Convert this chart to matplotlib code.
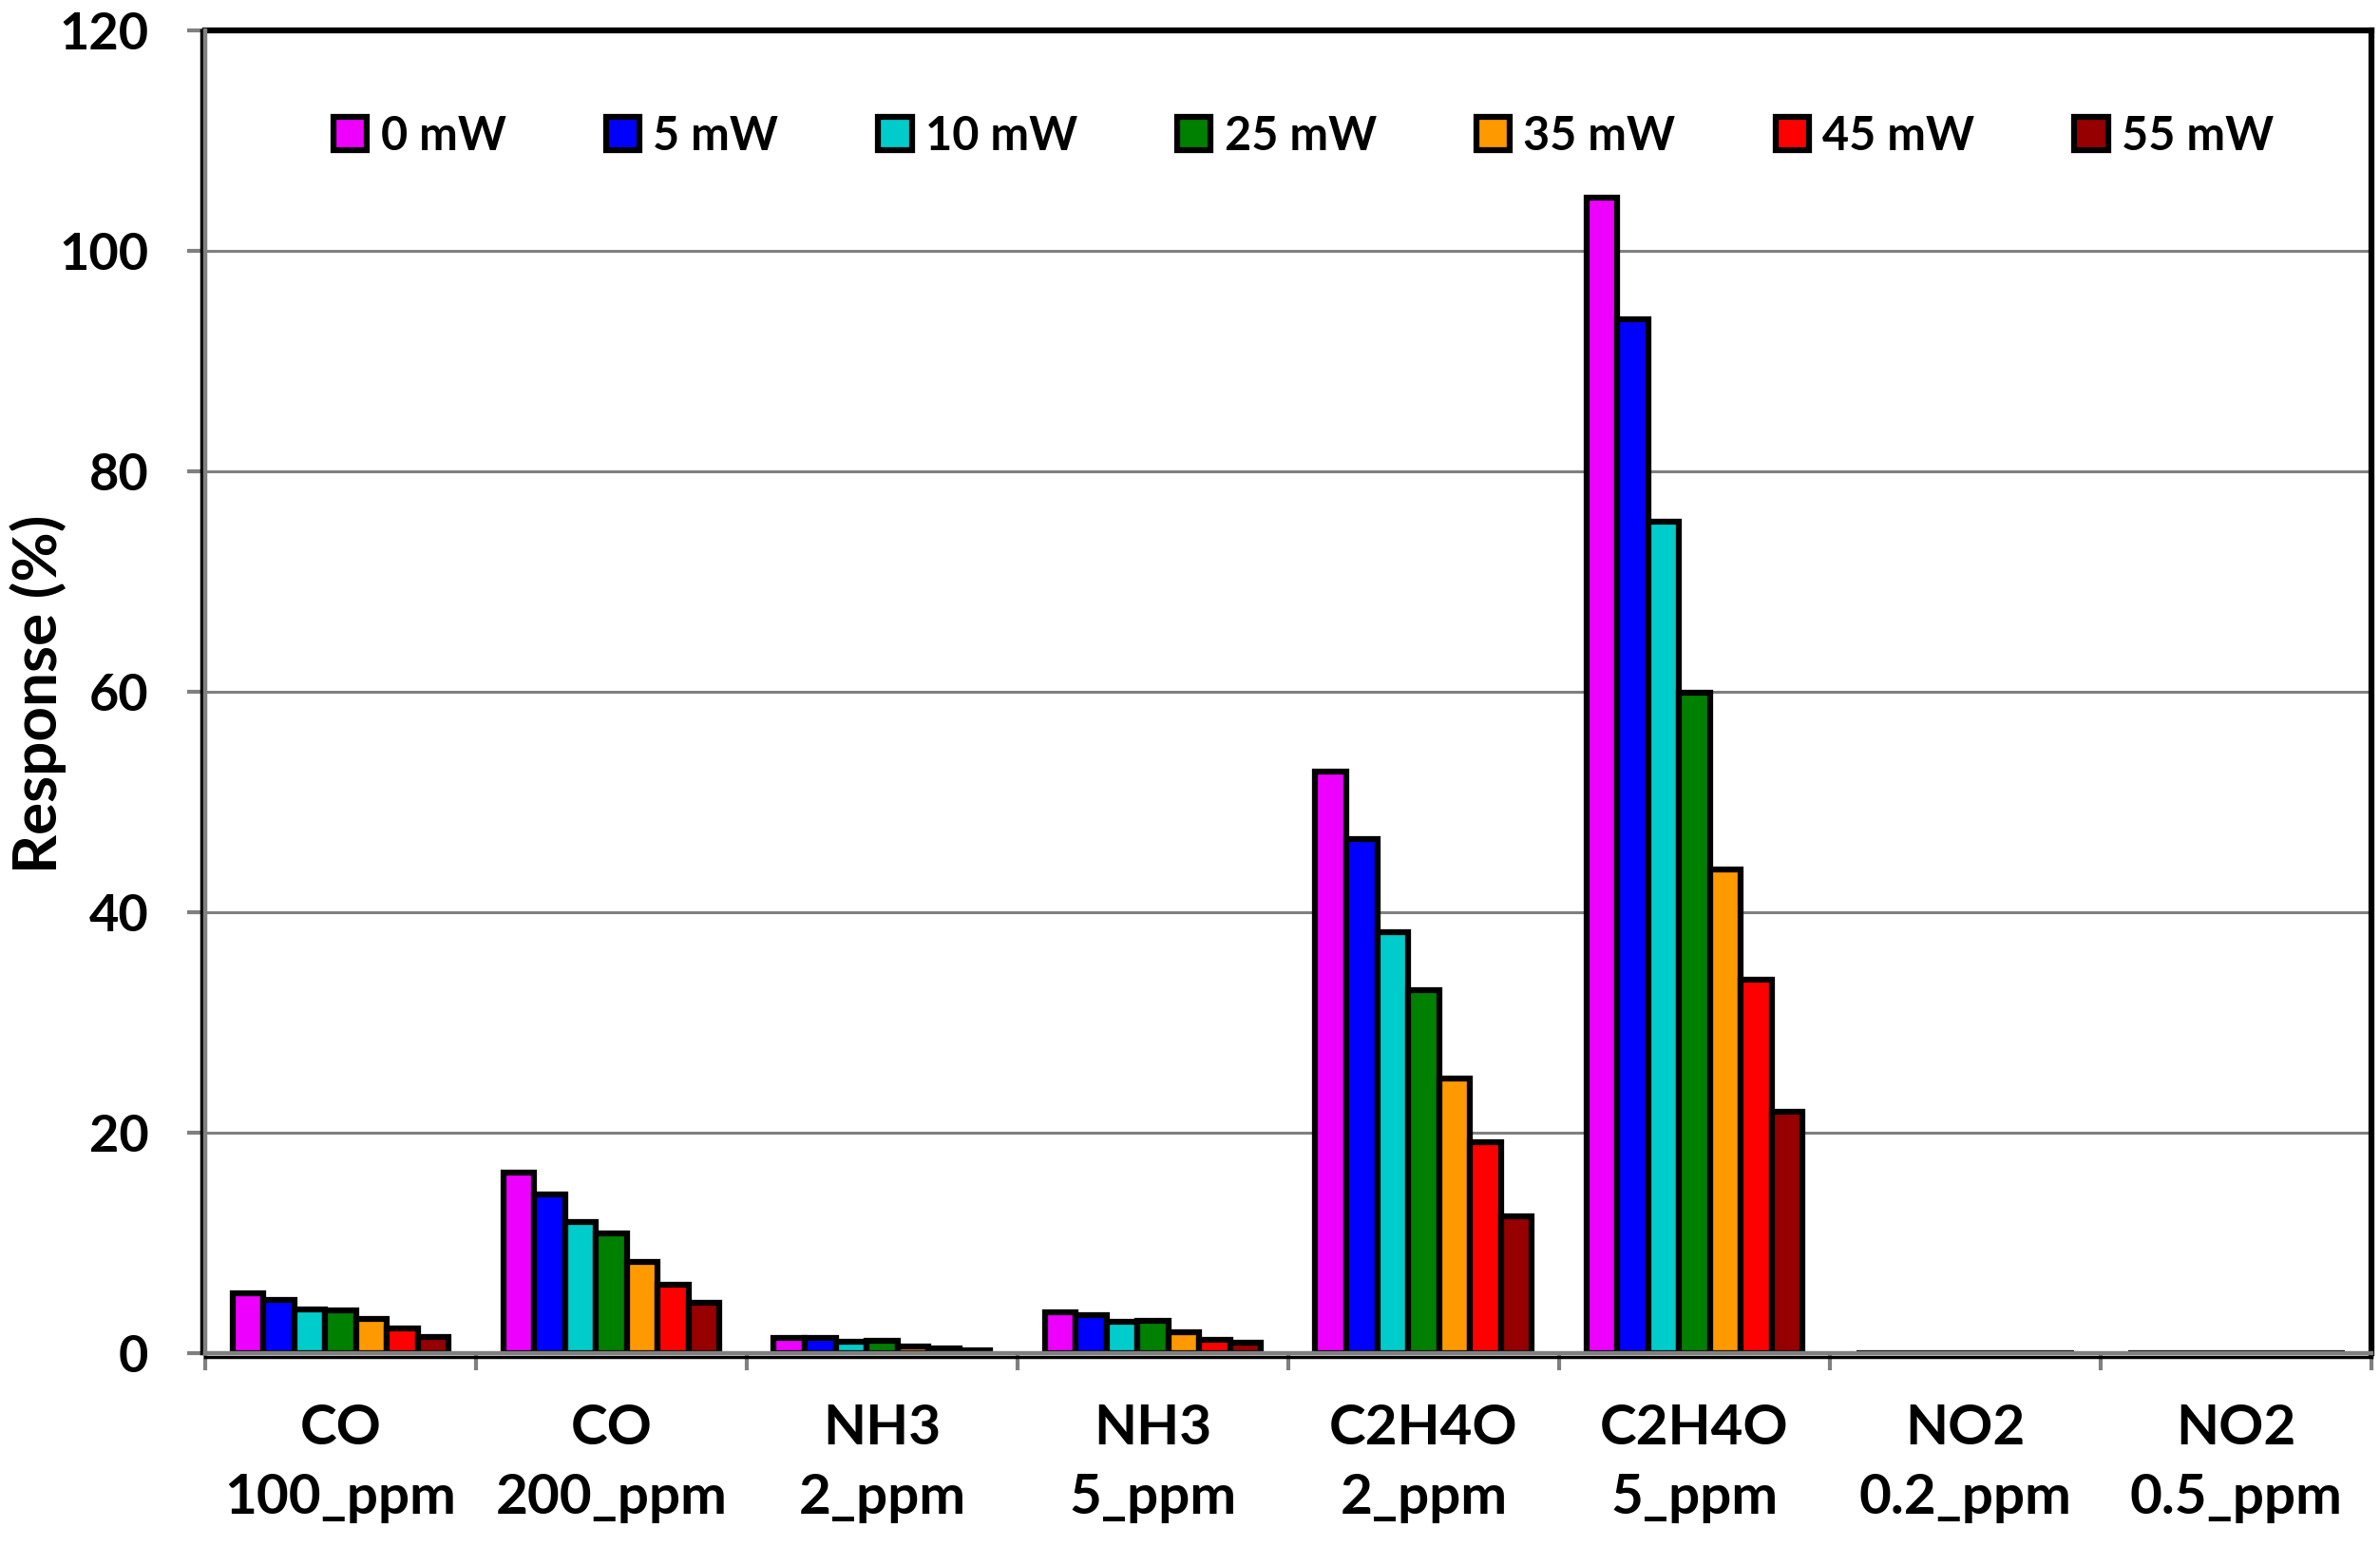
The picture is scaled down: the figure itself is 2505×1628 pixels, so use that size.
import matplotlib
matplotlib.use("Agg")
import matplotlib.pyplot as plt
import numpy as np
from matplotlib.transforms import ScaledTranslation
from matplotlib.lines import Line2D

categories = ["CO\n100_ppm", "CO\n200_ppm", "NH3\n2_ppm", "NH3\n5_ppm",
              "C2H4O\n2_ppm", "C2H4O\n5_ppm", "NO2\n0.2_ppm", "NO2\n0.5_ppm"]
series_names = ["0 mW", "5 mW", "10 mW", "25 mW", "35 mW", "45 mW", "55 mW"]
s_0mW  = [5.4, 16.4, 1.4, 3.7, 52.8, 104.8, 0, 0]
s_5mW  = [4.8, 14.4, 1.4, 3.45, 46.6, 93.8, 0, 0]
s_10mW = [4.0, 11.9, 1.0, 2.85, 38.2, 75.4, 0, 0]
s_25mW = [3.85, 10.9, 1.1, 2.9, 32.9, 59.9, 0, 0]
s_35mW = [3.1, 8.3, 0.6, 1.9, 24.9, 43.9, 0, 0]
s_45mW = [2.2, 6.2, 0.4, 1.2, 19.1, 33.9, 0, 0]
s_55mW = [1.44, 4.6, 0.3, 0.95, 12.4, 21.9, 0, 0]
series = [s_0mW, s_5mW, s_10mW, s_25mW, s_35mW, s_45mW, s_55mW]
colors = ["#EE00FF", "#0000FF", "#00CCCC", "#008000", "#FF9900", "#FF0000", "#960000"]
yticks = [0, 20, 40, 60, 80, 100, 120]

plt.rcParams['font.family'] = ['Lato', 'DejaVu Sans']
plt.rcParams['font.weight'] = 'bold'

fig = plt.figure(figsize=(25.05, 16.28), dpi=100)
ax = fig.add_axes([216/2505, 1-1424/1628, (2496-216)/2505, (1424-32)/1628])

n = len(series)
group_w = 0.8
bw = group_w / n
x = np.arange(len(categories))
for i, (vals, c, name) in enumerate(zip(series, colors, series_names)):
    offs = -group_w/2 + bw*(i+0.5)
    ax.bar(x + offs, vals, width=bw, color=c, edgecolor='black', linewidth=4.5,
           label=name, zorder=3)

ax.set_xlim(-0.5, len(categories)-0.5)
ax.set_ylim(0, 120)
ax.set_yticks(yticks)
ax.set_yticklabels([str(v) for v in yticks])
ax.yaxis.grid(True, color='#808080', linewidth=2.2, zorder=0)
ax.set_axisbelow(True)

ax.set_xticks(np.arange(len(categories)+1) - 0.5)
ax.set_xticklabels([])
ax.set_xticks(x, minor=True)
ax.set_xticklabels(categories, minor=True, fontsize=42, fontweight='bold', linespacing=1.47)
ax.tick_params(axis='x', which='major', length=13, width=3, color='#808080', direction='out')
ax.tick_params(axis='x', which='minor', length=0, pad=38)
ax.tick_params(axis='y', which='major', length=14, width=3, color='#808080',
               direction='out', labelsize=39, pad=29)
for lbl in ax.get_yticklabels():
    lbl.set_fontweight('bold')

for s in ['top', 'right']:
    ax.spines[s].set_color('black')
    ax.spines[s].set_linewidth(4.5)
for s in ['left', 'bottom']:
    ax.spines[s].set_color('#808080')
    ax.spines[s].set_linewidth(3.2)
    ax.spines[s].set_zorder(5)

# black outer border just outside the gray axis lines
off_l = ax.transAxes + ScaledTranslation(-4/100, 0, fig.dpi_scale_trans)
ax.add_line(Line2D([0, 0], [0, 1], transform=off_l, color='black', lw=2.5, clip_on=False, zorder=4))
off_b = ax.transAxes + ScaledTranslation(0, -4/100, fig.dpi_scale_trans)
ax.add_line(Line2D([0, 1], [0, 0], transform=off_b, color='black', lw=2.5, clip_on=False, zorder=4))

fig.text(40/2505, 1-730/1628, "Response (%)", rotation=90, ha='center', va='center',
         fontsize=46, fontweight='bold')

leg = fig.legend(loc='center left', bbox_to_anchor=(351/2505, 1-143/1628), ncol=7,
                 frameon=False, fontsize=35, handlelength=0.73, handleheight=0.75,
                 handletextpad=0.29, columnspacing=2.16, borderpad=0, borderaxespad=0)
for t in leg.get_texts():
    t.set_fontweight('bold')

fig.savefig("out.png", dpi=100)
